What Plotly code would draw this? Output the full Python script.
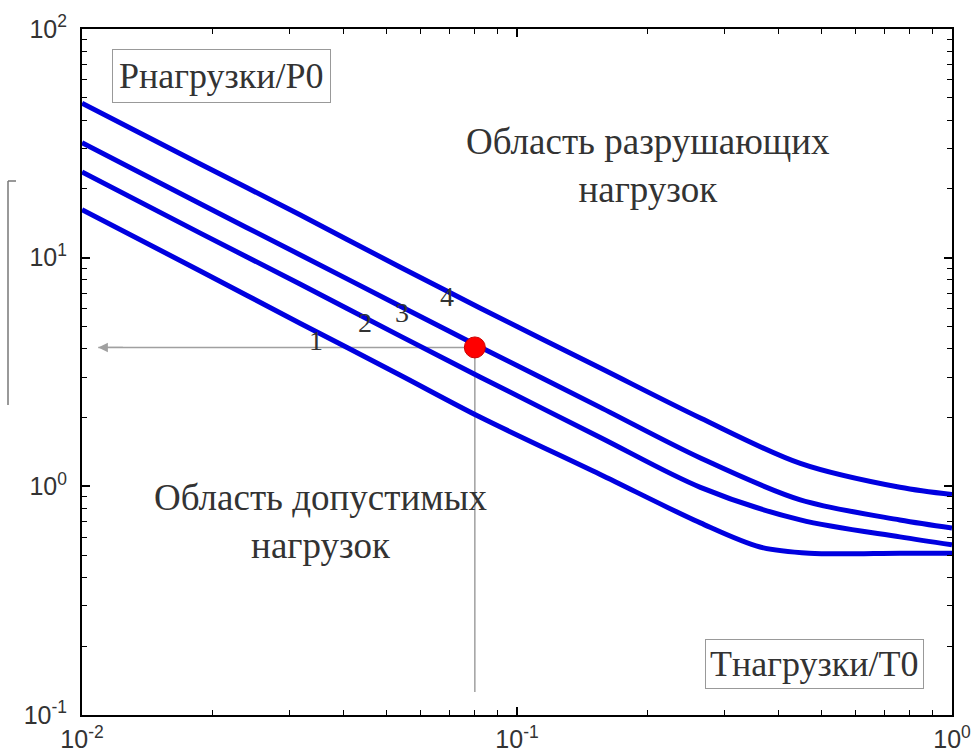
import plotly.graph_objects as go
import math

# ---- data ----
t_ratio = [0.01, 0.0187, 0.0317, 0.0538, 0.0822, 0.155, 0.264, 0.448, 0.759, 1.0]
curve4 = [47.4, 25.7, 15.4, 9.1, 6.03, 3.30, 1.99, 1.26, 0.99, 0.92]
curve3 = [31.8, 17.2, 10.3, 6.15, 4.07, 2.22, 1.33, 0.873, 0.713, 0.658]
curve2 = [23.7, 12.8, 7.67, 4.55, 3.01, 1.64, 0.99, 0.713, 0.601, 0.555]
t_ratio1 = [0.01, 0.0187, 0.0317, 0.0538, 0.0822, 0.155, 0.264, 0.362, 0.47, 0.759, 1.0]
curve1 = [16.2, 8.75, 5.17, 3.07, 2.01, 1.13, 0.692, 0.543, 0.51, 0.51, 0.51]

point_t = 0.08
point_p = 4.05
arrow_tip_t = 0.0109
vline_bottom_p = 0.126

x_tickvals = [0.01, 0.1, 1]
x_ticktext = ["10<sup>-2</sup>", "10<sup>-1</sup>", "10<sup>0</sup>"]
y_tickvals = [0.1, 1, 10, 100]
y_ticktext = ["10<sup>-1</sup>", "10<sup>0</sup>", "10<sup>1</sup>", "10<sup>2</sup>"]
x_minor = [m * 10 ** e for e in (-2, -1) for m in range(2, 10)]
y_minor = [m * 10 ** e for e in (-1, 0, 1) for m in range(2, 10)]

W, H = 971, 756
L, R, T, B = 82, 19, 29, 41
PW, PH = W - L - R, H - T - B

def px(xp):
    return (xp - L) / PW

def py(yp):
    return (H - B - yp) / PH

BLUE = "#0000e0"
GRAY = "#a0a0a0"

fig = go.Figure()

# reference lines
fig.add_trace(go.Scatter(x=[point_t, arrow_tip_t], y=[point_p, point_p], mode="lines",
                         line=dict(color=GRAY, width=1.5), showlegend=False, hoverinfo="skip"))
fig.add_trace(go.Scatter(x=[point_t, point_t], y=[point_p, vline_bottom_p], mode="lines",
                         line=dict(color=GRAY, width=1.5), showlegend=False, hoverinfo="skip"))

for ys, xs in [(curve1, t_ratio1), (curve2, t_ratio), (curve3, t_ratio), (curve4, t_ratio)]:
    fig.add_trace(go.Scatter(x=xs, y=ys, mode="lines",
                             line=dict(color=BLUE, width=5, shape="spline", smoothing=0.9),
                             showlegend=False))

fig.add_trace(go.Scatter(x=[point_t], y=[point_p], mode="markers",
                         marker=dict(color="#ff0000", size=21, line=dict(color="#cc0000", width=1)),
                         showlegend=False))

serif = "Liberation Serif"
TXT = "#333333"
ann = []
# arrow head
ann.append(dict(x=math.log10(arrow_tip_t), y=math.log10(point_p), xref="x", yref="y",
                ax=math.log10(arrow_tip_t) + 0.06, ay=math.log10(point_p), axref="x", ayref="y",
                text="", showarrow=True, arrowhead=2, arrowsize=1.6, arrowwidth=1.2,
                arrowcolor=GRAY))

def label(text, xp, yp, size, **kw):
    d = dict(x=px(xp), y=py(yp), xref="paper", yref="paper", text=text, showarrow=False,
             xanchor="center", yanchor="middle", font=dict(family=serif, size=size, color=TXT))
    d.update(kw)
    ann.append(d)

# boxed labels
label("Рнагрузки/Р0", 221, 76, 36, bordercolor="#999999", borderwidth=1, borderpad=6, bgcolor="white")
label("Тнагрузки/Т0", 814, 664, 36, bordercolor="#999999", borderwidth=1, borderpad=4, bgcolor="white")
# region labels
label("Область разрушающих<br>нагрузок", 648, 165, 37)
label("Область допустимых<br>нагрузок", 321, 521, 37)
# curve numbers
for t, xp, yp in [("1", 316, 340), ("2", 365, 322), ("3", 402, 312), ("4", 447, 296)]:
    label(t, xp, yp, 28)

tickfont = dict(family="Liberation Sans", size=25, color="#333333")

axis_common = dict(type="log", showgrid=False, zeroline=False, showline=True, automargin=False,
                   linecolor="black", linewidth=2, mirror="allticks", ticks="inside",
                   ticklen=8, tickwidth=1.5, tickcolor="black", ticklabeloverflow="allow")

fig.update_layout(
    width=W, height=H,
    margin=dict(l=L, r=R, t=T, b=B, pad=0),
    paper_bgcolor="white", plot_bgcolor="white",
    xaxis=dict(range=[-2, 0], tickvals=x_tickvals, ticktext=x_ticktext, ticklabelstandoff=1,
               tickfont=tickfont,
               minor=dict(tickmode="array", tickvals=x_minor, ticks="inside", ticklen=5,
                          tickwidth=1.2, tickcolor="black", showgrid=False),
               **axis_common),
    yaxis=dict(range=[-1, 2], tickvals=y_tickvals, ticktext=y_ticktext, ticklabelstandoff=8,
               tickfont=tickfont,
               minor=dict(tickmode="array", tickvals=y_minor, ticks="inside", ticklen=5,
                          tickwidth=1.2, tickcolor="black", showgrid=False),
               **axis_common),
    annotations=ann,
    shapes=[
        dict(type="line", xref="paper", yref="paper", x0=px(8), x1=px(8), y0=py(181), y1=py(405),
             line=dict(color="#777777", width=1.5)),
        dict(type="line", xref="paper", yref="paper", x0=px(8), x1=px(16), y0=py(181), y1=py(181),
             line=dict(color="#777777", width=1.5)),
    ],
)

fig.write_html("out.html")
